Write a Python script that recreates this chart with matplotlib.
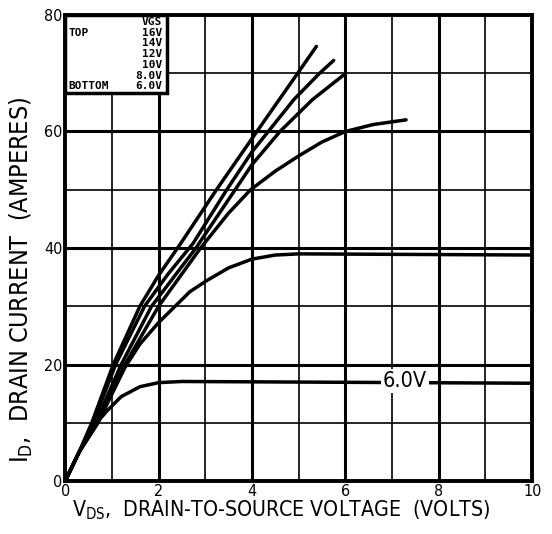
import matplotlib.pyplot as plt

# drain current curves (VDS volts, ID amps)
vds_16 = [0, 0.3, 0.57, 1.03, 1.6, 2.0, 2.45, 3.24, 4.08, 4.98, 5.38]
id_16 = [0, 5, 10, 20, 30, 35.3, 40.5, 50, 59.7, 70, 74.6]

vds_14 = [0, 0.3, 0.6, 1.08, 1.7, 2.2, 2.74, 3.46, 4.0, 4.35, 4.9, 5.45, 5.75]
id_14 = [0, 5, 10, 20, 30, 35.5, 40.8, 50, 56.5, 60, 65.5, 70, 72.2]

vds_12 = [0, 0.3, 0.65, 1.2, 1.85, 2.8, 3.64, 4.0, 4.6, 5.3, 5.98]
id_12 = [0, 5, 10, 20, 30, 40, 50, 54.3, 60, 65.5, 69.8]

vds_10 = [0, 0.3, 0.7, 1.28, 2.0, 2.9, 3.5, 3.97, 4.5, 5.0, 5.5, 6.0, 6.6, 7.3]
id_10 = [0, 5, 10, 20, 30, 40, 46, 50, 53.2, 55.8, 58.2, 60, 61.2, 62]

vds_8 = [0, 0.3, 0.7, 1.28, 1.6, 2.0, 2.67, 3.03, 3.5, 4.0, 4.5, 5.0, 10]
id_8 = [0, 5, 10, 19.5, 23.5, 27.2, 32.5, 34.4, 36.6, 38.1, 38.8, 39, 38.8]

vds_6 = [0, 0.3, 0.6, 0.89, 1.2, 1.6, 2.0, 2.5, 10]
id_6 = [0, 5, 9.3, 12, 14.5, 16.2, 16.9, 17.1, 16.8]

legend_left = ['', 'TOP', '', '', '', '', 'BOTTOM']
legend_right = ['VGS', '16V', '14V', '12V', '10V', '8.0V', '6.0V']

plt.rcParams['font.family'] = ['DejaVu Sans']
plt.rcParams['font.stretch'] = 'condensed'

fig = plt.figure(figsize=(5.52, 5.34), dpi=100)
ax = fig.add_axes([0.118, 0.099, 0.846, 0.873])

for v in range(1, 10):
    ax.axvline(v, color='black', lw=2.2 if v % 2 == 0 else 1.2, zorder=1)
for i in range(10, 80, 10):
    ax.axhline(i, color='black', lw=2.2 if i % 20 == 0 else 1.2, zorder=1)

for x, y in [(vds_16, id_16), (vds_14, id_14), (vds_12, id_12),
             (vds_10, id_10), (vds_8, id_8), (vds_6, id_6)]:
    ax.plot(x, y, color='black', lw=2.5, solid_capstyle='round',
            solid_joinstyle='round', zorder=3)

ax.text(7.28, 17.2, '6.0V', ha='center', va='center', fontsize=15.5,
        bbox=dict(facecolor='white', edgecolor='none', pad=1.5), zorder=4)

ax.set_xlim(0, 10)
ax.set_ylim(0, 80)
ax.set_xticks(range(0, 11, 2))
ax.set_yticks(range(0, 81, 20))
ax.tick_params(length=0, labelsize=11.5, pad=2)
for s in ax.spines.values():
    s.set_linewidth(2.8)
    s.set_zorder(5)

ax.set_xlabel(r'$\mathregular{V_{DS}}$,  DRAIN-TO-SOURCE VOLTAGE  (VOLTS)', fontsize=15.3)
ax.xaxis.set_label_coords(0.463, -0.038, transform=ax.transAxes)
ax.xaxis.label.set_va('top')
ax.set_ylabel(r'$\mathregular{I_D}$,  DRAIN CURRENT  (AMPERES)', fontsize=18)
ax.yaxis.set_label_coords(-0.064, 0.431, transform=ax.transAxes)

# legend box in the top-left corner
box = plt.Rectangle((0, 0.833), 0.218, 0.167, transform=ax.transAxes,
                    facecolor='white', edgecolor='black', lw=2.5, zorder=6)
ax.add_patch(box)
for k in range(len(legend_right)):
    yy = 0.985 - k * 0.0230
    ax.text(0.008, yy, legend_left[k], transform=ax.transAxes, fontsize=8,
            family='DejaVu Sans Mono', weight='bold', va='center', zorder=7)
    ax.text(0.208, yy, legend_right[k], transform=ax.transAxes, fontsize=8,
            family='DejaVu Sans Mono', weight='bold', va='center', ha='right', zorder=7)

fig.savefig('out.png', dpi=100)
